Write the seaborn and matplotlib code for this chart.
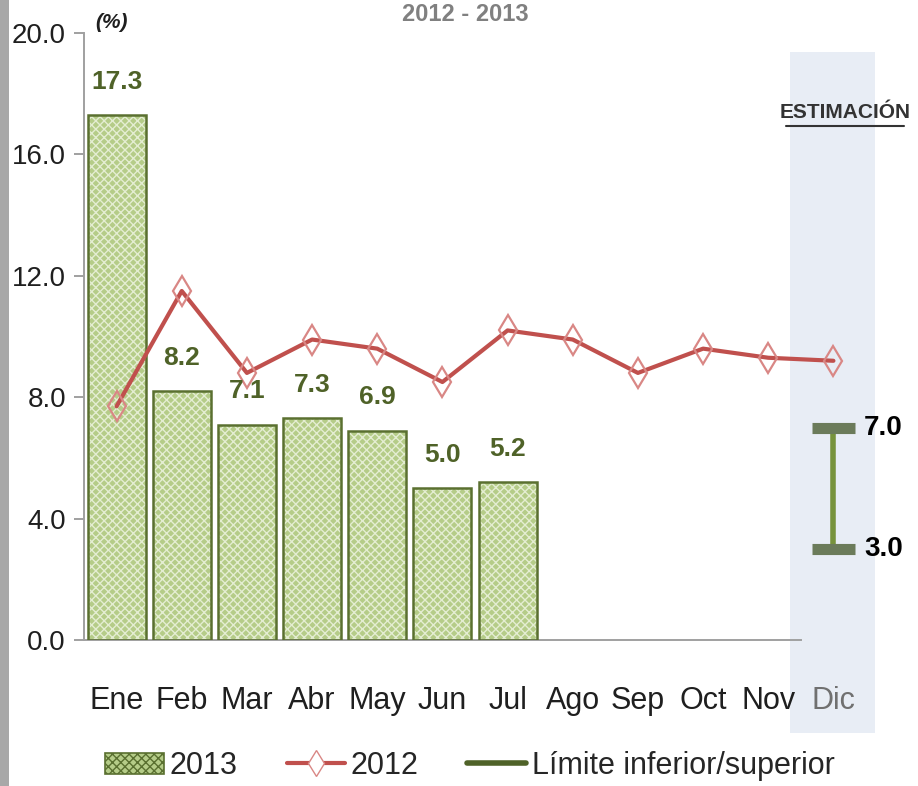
import numpy as np
import pandas as pd
import seaborn as sns
import matplotlib
matplotlib.use("Agg")
import matplotlib.pyplot as plt
from matplotlib import font_manager
from matplotlib.patches import Rectangle, Patch
from matplotlib.lines import Line2D

months = ["Ene", "Feb", "Mar", "Abr", "May", "Jun", "Jul", "Ago", "Sep", "Oct", "Nov", "Dic"]
vals_2013 = [17.3, 8.2, 7.1, 7.3, 6.9, 5.0, 5.2]
vals_2012 = [7.7, 11.5, 8.8, 9.9, 9.6, 8.5, 10.2, 9.9, 8.8, 9.6, 9.3, 9.2]
lim_inf = 3.0
lim_sup = 7.0
yticks = [0.0, 4.0, 8.0, 12.0, 16.0, 20.0]

sns.set_theme(style="white")
names = {f.name for f in font_manager.fontManager.ttflist}
fam = ["Liberation Sans Narrow"] if "Liberation Sans Narrow" in names else []
plt.rcParams["font.family"] = fam + ["Liberation Sans", "DejaVu Sans"]

W, H = 918, 786
fig = plt.figure(figsize=(W / 100, H / 100), dpi=100)
fig.patch.set_facecolor("white")

def fx(px):
    return px / W
def fy(py):
    return 1 - py / H

ax_left, ax_right, ax_top, ax_bot = 84, 866, 33, 640
ax = fig.add_axes([fx(ax_left), fy(ax_bot), fx(ax_right - ax_left), (ax_bot - ax_top) / H])
ax.set_facecolor("none")

# estimation band (figure coords)
fig.patches.append(Rectangle((fx(790), fy(733)), fx(875 - 790), (733 - 52) / H,
                             transform=fig.transFigure, facecolor="#E8EDF5",
                             edgecolor="none", zorder=-5))
# left gray frame
fig.patches.append(Rectangle((0, 0), fx(9), 1, transform=fig.transFigure,
                             facecolor="#A8A8A8", edgecolor="none", zorder=-5))

df13 = pd.DataFrame({"mes": months[:len(vals_2013)], "val": vals_2013})
df12 = pd.DataFrame({"mes": months, "val": vals_2012, "x": np.arange(len(months))})

sns.barplot(data=df13, x="mes", y="val", order=months, ax=ax, width=0.89,
            color="#B5CC88", saturation=1, linewidth=0, hatch="xxxx",
            edgecolor="#E4EDD2", zorder=2)
for p in ax.patches:
    p.set_edgecolor("#E4EDD2")
ax.bar(np.arange(len(vals_2013)), vals_2013, width=0.89, fill=False,
       edgecolor="#5A7030", linewidth=1.8, zorder=3)

for i, v in enumerate(vals_2013):
    ax.text(i, v + 0.7, f"{v:.1f}", ha="center", va="bottom", fontsize=19,
            fontweight="bold", color="#4F6228", zorder=5)

sns.lineplot(data=df12, x="x", y="val", ax=ax, color="#C0504D", linewidth=3,
             marker="d", markersize=15, markerfacecolor="none",
             markeredgecolor="#D98785", markeredgewidth=1.6, zorder=4)

# estimation error bar
xe = 11
ax.vlines(xe, lim_inf, lim_sup, color="#77933C", linewidth=4, zorder=4)
ax.hlines([lim_inf, lim_sup], xe - 0.33, xe + 0.33, color="#6B7B5A", linewidth=8, zorder=5)
for v in (lim_sup, lim_inf):
    ax.text(xe + 0.47, v, f"{v:.1f}", ha="left", va="center", fontsize=20,
            fontweight="bold", color="black", zorder=6)

ax.set_xlim(-0.5, len(months) - 0.5)
ax.set_ylim(0, 20)
ax.set_yticks(yticks)
ax.set_yticklabels([f"{t:.1f}" for t in yticks], fontsize=20, color="#1F1F1F")
ax.set_xticks(np.arange(len(months)))
ax.set_xticklabels(months, fontsize=22, color="#1F1F1F")
for lbl in ax.get_xticklabels():
    if lbl.get_text() == "Dic":
        lbl.set_color("#707070")
ax.set_xticks(np.arange(len(months) + 1) - 0.5, minor=True)
ax.tick_params(axis="x", which="major", length=0, pad=33)
ax.tick_params(axis="x", which="minor", length=9, width=1.4, color="#A0A0A0", direction="out")
ax.tick_params(axis="y", which="major", length=7, width=1.4, color="#A0A0A0", direction="out", left=True, pad=6)
ax.set_xlabel("")
ax.set_ylabel("")
for s in ("top", "right"):
    ax.spines[s].set_visible(False)
for s in ("left", "bottom"):
    ax.spines[s].set_color("#A0A0A0")
    ax.spines[s].set_linewidth(1.4)
ax.spines["bottom"].set_bounds(-0.5, 10.5)

# texts
fig.text(fx(112), fy(22), "(%)", fontsize=15, fontweight="bold", fontstyle="italic",
         ha="center", va="center", color="#1F1F1F")
fig.text(fx(465), fy(3), "2012 - 2013", fontsize=17, fontweight="bold",
         ha="center", va="top", color="#808080")
fig.text(fx(845), fy(112), "ESTIMACIÓN", fontsize=15, fontweight="bold",
         ha="center", va="center", color="#333333")
fig.add_artist(Line2D([fx(786), fx(904)], [fy(126), fy(126)], color="#333333",
                      linewidth=1.5, transform=fig.transFigure))

handles = [
    Patch(facecolor="#B5CC88", edgecolor="#5A7030", hatch="xxxx", linewidth=1.2),
    Line2D([], [], color="#C0504D", linewidth=3, marker="d", markersize=13,
           markerfacecolor="white", markeredgecolor="#D98785"),
    Line2D([], [], color="#4F6228", linewidth=4),
]
fig.legend(handles, ["2013", "2012", "Límite inferior/superior"], loc="center",
           bbox_to_anchor=(fx(470), fy(766)), ncol=3, frameon=False, fontsize=22,
           handlelength=1.9, handletextpad=0.2, columnspacing=1.6)

fig.savefig("out.png", dpi=100)
